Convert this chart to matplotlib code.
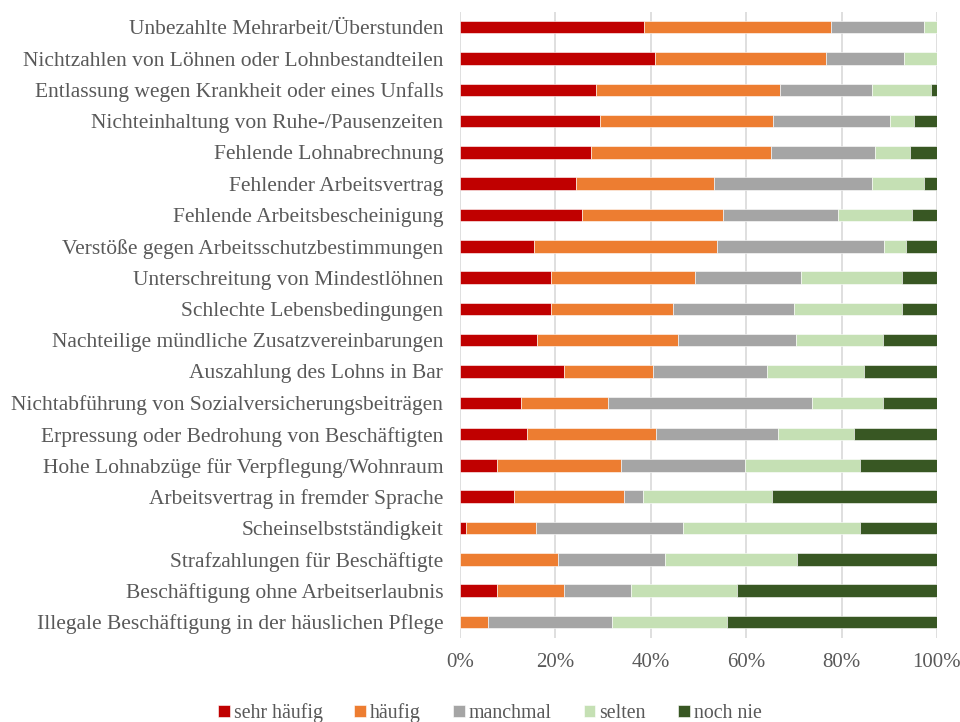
import numpy as np
import matplotlib.pyplot as plt

plt.rcParams['font.family'] = ['Liberation Serif', 'DejaVu Serif']

categories = [
    'Unbezahlte Mehrarbeit/Überstunden',
    'Nichtzahlen von Löhnen oder Lohnbestandteilen',
    'Entlassung wegen Krankheit oder eines Unfalls',
    'Nichteinhaltung von Ruhe-/Pausenzeiten',
    'Fehlende Lohnabrechnung',
    'Fehlender Arbeitsvertrag',
    'Fehlende Arbeitsbescheinigung',
    'Verstöße gegen Arbeitsschutzbestimmungen',
    'Unterschreitung von Mindestlöhnen',
    'Schlechte Lebensbedingungen',
    'Nachteilige mündliche Zusatzvereinbarungen',
    'Auszahlung des Lohns in Bar',
    'Nichtabführung von Sozialversicherungsbeiträgen',
    'Erpressung oder Bedrohung von Beschäftigten',
    'Hohe Lohnabzüge für Verpflegung/Wohnraum',
    'Arbeitsvertrag in fremder Sprache',
    'Scheinselbstständigkeit',
    'Strafzahlungen für Beschäftigte',
    'Beschäftigung ohne Arbeitserlaubnis',
    'Illegale Beschäftigung in der häuslichen Pflege',
]

sehr_haeufig = [38.7, 41.0, 28.6, 29.4, 27.4, 24.4, 25.7, 15.6, 19.2, 19.2,
                16.2, 21.9, 12.9, 14.1, 7.8, 11.3, 1.3, 0.0, 7.8, 0.0]
haeufig = [39.0, 35.7, 38.4, 36.2, 37.8, 28.9, 29.4, 38.2, 30.0, 25.4,
           29.6, 18.6, 18.1, 27.0, 25.9, 23.2, 14.6, 20.5, 14.1, 5.8]
manchmal = [19.6, 16.4, 19.4, 24.5, 21.8, 33.1, 24.1, 35.1, 22.4, 25.4,
            24.6, 23.8, 42.8, 25.5, 26.0, 3.8, 30.8, 22.4, 13.9, 26.0]
selten = [2.7, 6.9, 12.3, 5.1, 7.3, 10.9, 15.6, 4.7, 21.0, 22.6,
          18.2, 20.5, 14.8, 16.0, 24.2, 27.1, 37.2, 27.8, 22.2, 24.2]
noch_nie = [0.0, 0.0, 1.3, 4.8, 5.7, 2.7, 5.2, 6.4, 7.4, 7.4,
            11.4, 15.2, 11.4, 17.4, 16.1, 34.6, 16.1, 29.3, 42.0, 44.0]

series = [sehr_haeufig, haeufig, manchmal, selten, noch_nie]
labels = ['sehr häufig', 'häufig', 'manchmal', 'selten', 'noch nie']
colors = ['#C00000', '#ED7D31', '#A5A5A5', '#C5E0B4', '#385723']

fs = 15.5
fig = plt.figure(figsize=(9.6, 7.22), dpi=100)
ax = fig.add_axes([0.479, 0.117, 0.497, 0.867])

y = np.arange(len(categories))
left = np.zeros(len(categories))
for vals, lab, col in zip(series, labels, colors):
    vals = np.array(vals)
    ax.barh(y, vals, left=left, height=0.4, color=col, label=lab,
            edgecolor='white', linewidth=0.4, zorder=3)
    left += vals

ax.set_ylim(len(categories) - 0.5, -0.5)
ax.set_xlim(0, 100)
ax.set_yticks(y)
ax.set_yticklabels(categories)
ax.set_xticks(np.arange(0, 101, 20))
ax.set_xticklabels([f'{v}%' for v in range(0, 101, 20)])
ax.tick_params(axis='y', length=0, pad=12, labelsize=fs, labelcolor='#595959')
ax.tick_params(axis='x', length=0, pad=11, labelsize=15, labelcolor='#595959')
ax.grid(axis='x', color='#D9D9D9', linewidth=1.2, zorder=0)
for s in ax.spines.values():
    s.set_visible(False)

leg = fig.legend(loc='lower center', bbox_to_anchor=(0.51, -0.026), ncol=5,
                 frameon=False, fontsize=14.3, labelcolor='#595959',
                 handlelength=0.6, handleheight=0.6, handletextpad=0.2,
                 columnspacing=1.6)
for t in leg.get_texts():
    t.set_fontfamily('Liberation Serif')

fig.savefig('out.png', dpi=100)
